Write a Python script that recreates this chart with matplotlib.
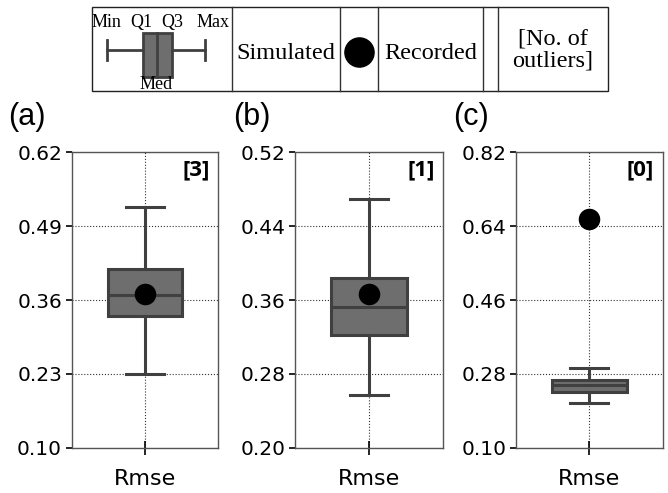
import matplotlib
matplotlib.use("Agg")
import matplotlib.pyplot as plt
from matplotlib.patches import Rectangle

# ---- data ----
panel_labels = ["(a)", "(b)", "(c)"]
category = ["Rmse"]
whis_lo = [0.230, 0.257, 0.210]
q1 = [0.332, 0.3225, 0.236]
med = [0.369, 0.352, 0.252]
q3 = [0.414, 0.384, 0.264]
whis_hi = [0.523, 0.469, 0.295]
recorded = [0.370, 0.3665, 0.657]
n_outliers = [3, 1, 0]
yticks_a = [0.10, 0.23, 0.36, 0.49, 0.62]
yticks_b = [0.20, 0.28, 0.36, 0.44, 0.52]
yticks_c = [0.10, 0.28, 0.46, 0.64, 0.82]
yticks_all = [yticks_a, yticks_b, yticks_c]

W, H = 668, 493
fig = plt.figure(figsize=(W / 100, H / 100), dpi=100)

box_face = "#6e6e6e"
edge = "#404040"

# axes pixel rectangles (left, top, right, bottom)
rects = [(71.7, 152.3, 218.3, 447.7), (295.0, 152.3, 443.3, 447.7), (516.0, 152.3, 662.7, 447.7)]
label_x = [8, 233, 453]

for i in range(3):
    l, t, r, b = rects[i]
    ax = fig.add_axes([l / W, (H - b) / H, (r - l) / W, (b - t) / H])
    stats = [dict(whislo=whis_lo[i], q1=q1[i], med=med[i], q3=q3[i], whishi=whis_hi[i], fliers=[])]
    ax.bxp(stats, positions=[1], widths=0.51, capwidths=0.26, patch_artist=True,
           manage_ticks=False,
           boxprops=dict(facecolor=box_face, edgecolor=edge, linewidth=2.2),
           whiskerprops=dict(color=edge, linewidth=2.2),
           capprops=dict(color=edge, linewidth=2.2),
           medianprops=dict(color=edge, linewidth=2.2))
    ax.plot([1], [recorded[i]], "o", color="black", ms=14.5, zorder=5)
    ax.set_xlim(0.5, 1.5)
    yt = yticks_all[i]
    ax.set_ylim(yt[0], yt[-1])
    ax.set_yticks(yt)
    ax.set_yticklabels([f"{v:.2f}" for v in yt])
    ax.set_xticks([1])
    ax.set_xticklabels(category)
    ax.set_axisbelow(True)
    ax.grid(True, linestyle=":", color="#333333", linewidth=0.8)
    for s in ax.spines.values():
        s.set_color("#555555")
        s.set_linewidth(1.0)
    ax.tick_params(axis="y", direction="out", length=4.5, width=1.2, pad=2.4,
                   labelsize=14.5, colors="black")
    ax.tick_params(axis="x", direction="inout", length=9.4, width=1.2, pad=10.5,
                   labelsize=16, colors="black")
    ax.text(0.94, 0.94, f"[{n_outliers[i]}]", transform=ax.transAxes, ha="right",
            va="center", fontsize=16, fontweight="bold", family="Open Sans")
    fig.text(label_x[i] / W, 1 - 117 / H, panel_labels[i], ha="left", va="center",
             fontsize=22, family="Liberation Sans")

# ---- legend table at the top (pixel coordinates) ----
lax = fig.add_axes([0, 0, 1, 1])
lax.set_xlim(0, W)
lax.set_ylim(H, 0)
lax.axis("off")
lax.patch.set_alpha(0)
lax.add_patch(Rectangle((92, 7), 516, 84, fill=False, edgecolor="#222222", linewidth=1.0))
for x in [231.7, 340, 378.3, 482.7, 498.3]:
    lax.plot([x, x], [7, 91], color="#333333", linewidth=1.0)
# key sample box (decoration)
lax.plot([106.7, 142.7], [49.5, 49.5], color=edge, lw=2.0)
lax.plot([171.7, 205], [49.5, 49.5], color=edge, lw=2.0)
lax.plot([106.7, 106.7], [39.5, 59.5], color=edge, lw=2.0)
lax.plot([205, 205], [39.5, 59.5], color=edge, lw=2.0)
lax.add_patch(Rectangle((142.7, 33), 29, 44, facecolor=box_face, edgecolor=edge, lw=2.0))
lax.plot([156.7, 156.7], [33, 77], color=edge, lw=2.0)
serif = "Liberation Serif"
for txt, x in zip(["Min", "Q1", "Q3", "Max"], [106.7, 141.7, 172.7, 213.3]):
    lax.text(x, 27, txt, ha="center", va="baseline", fontsize=13, family=serif)
lax.text(156, 89, "Med", ha="center", va="baseline", fontsize=13, family=serif)
lax.text(286, 59.3, "Simulated", ha="center", va="baseline", fontsize=17.5, family=serif)
lax.plot([359.3], [51.5], "o", color="black", ms=21)
lax.text(430.5, 59.3, "Recorded", ha="center", va="baseline", fontsize=17.5, family=serif)
lax.text(553, 45, "[No. of", ha="center", va="baseline", fontsize=17.5, family=serif)
lax.text(553, 66.7, "outliers]", ha="center", va="baseline", fontsize=17.5, family=serif)

fig.savefig("out.png", dpi=100)
